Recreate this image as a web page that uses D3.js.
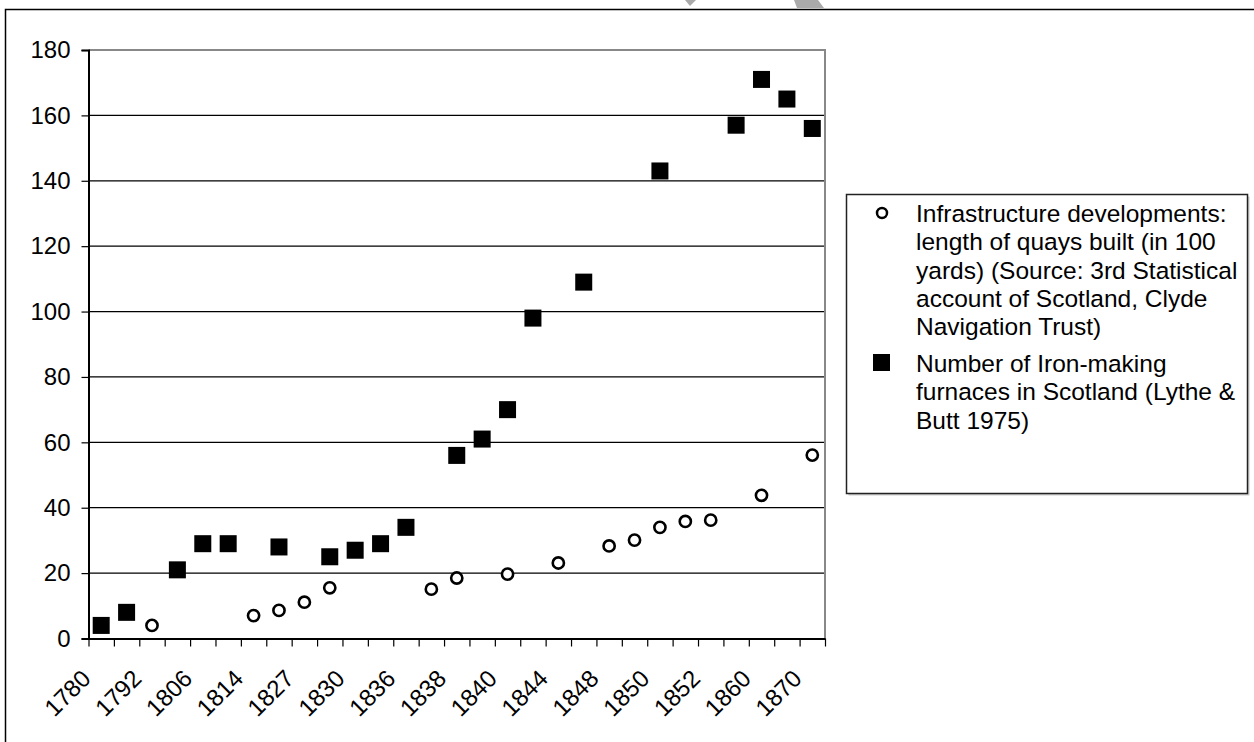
<!DOCTYPE html>
<html>
<head>
<meta charset="utf-8">
<script src="https://cdn.jsdelivr.net/npm/d3@7"></script>
<style>
  body { margin: 0; background: #fff; }
  svg text { font-family: "Liberation Sans", Arial, sans-serif; fill: #000; }
</style>
</head>
<body>
<svg width="1254" height="742"></svg>
<script>
// 29 categories, Excel only labels every second one
var yearLabels = ["1780","","1792","","1806","","1814","","1827","","1830","","1836","","1838","","1840","","1844","","1848","","1850","","1852","","1860","","1870"];

// Number of Iron-making furnaces (squares)
var furnaces = [4, 8, null, 21, 29, 29, null, 28, null, 25, 27, 29, 34, null, 56, 61, 70, 98, null, 109, null, null, 143, null, null, 157, 171, 165, 156];

// length of quays built, in 100 yards (circles)
var quays = [null, null, 4, null, null, null, 7, 8.6, 11.1, 15.5, null, null, null, 15.1, 18.5, null, 19.7, null, 23.1, null, 28.3, 30.1, 34, 35.8, 36.2, null, 43.8, null, 56.1];

var yTicks = [0, 20, 40, 60, 80, 100, 120, 140, 160, 180];

var legendQuays = ["Infrastructure developments:", "length of quays built (in 100", "yards) (Source: 3rd Statistical", "account of Scotland, Clyde", "Navigation Trust)"];
var legendFurnaces = ["Number of Iron-making", "furnaces in Scotland (Lythe &", "Butt 1975)"];

var svg = d3.select('svg');
var plotLeft = 88.5, plotRight = 825, plotTop = 50, plotBottom = 638.5;
var fontSize = 24;

// outer chart border
svg.append('rect')
  .attr('x', 5.5).attr('y', 9.5)
  .attr('width', 1400).attr('height', 900)
  .attr('fill', '#fff').attr('stroke', '#000').attr('stroke-width', 1.5);

// bits of the watermark peeking over the top edge
svg.append('path').attr('d', 'M685,0 L696,0 L690,6 Z').attr('fill', '#aaa');
svg.append('path').attr('d', 'M794,0 L818,0 L824,8 L797,8 Z').attr('fill', '#aaa');

var x = d3.scaleBand().domain(d3.range(yearLabels.length)).range([plotLeft, plotRight]).padding(0);
var xEdges = d3.scaleLinear().domain([0, yearLabels.length]).range([plotLeft, plotRight]);
var y = d3.scaleLinear().domain([0, 180]).range([plotBottom, plotTop]);

// gridlines
svg.append('g')
  .selectAll('line')
  .data(yTicks.filter(function(d) { return d > 0 && d < 180; }))
  .enter().append('line')
  .attr('x1', plotLeft).attr('x2', plotRight)
  .attr('y1', function(d) { return y(d); })
  .attr('y2', function(d) { return y(d); })
  .attr('stroke', '#000').attr('stroke-width', 1.2);

// plot area frame (top and right are gray)
svg.append('path')
  .attr('d', 'M' + plotLeft + ',' + plotTop + ' L' + plotRight + ',' + plotTop + ' L' + plotRight + ',' + plotBottom)
  .attr('fill', 'none').attr('stroke', '#888').attr('stroke-width', 2);

// y axis
var yAxis = svg.append('g')
  .attr('transform', 'translate(' + plotLeft + ',0)')
  .call(d3.axisLeft(y).tickValues(yTicks).tickSize(7).tickPadding(11));
yAxis.select('.domain').attr('stroke', '#000').attr('stroke-width', 2);
yAxis.selectAll('.tick line').attr('stroke', '#000').attr('stroke-width', 1.2);
yAxis.selectAll('text').attr('font-size', fontSize).attr('font-family', null);

// x axis, ticks on category boundaries
var xAxis = svg.append('g')
  .attr('transform', 'translate(0,' + plotBottom + ')')
  .call(d3.axisBottom(xEdges).tickValues(d3.range(yearLabels.length + 1)).tickFormat('').tickSize(8).tickSizeOuter(0));
xAxis.select('.domain').attr('stroke', '#000').attr('stroke-width', 2);
xAxis.selectAll('.tick line').attr('stroke', '#000').attr('stroke-width', 1.2);

svg.append('g')
  .selectAll('text')
  .data(yearLabels)
  .enter().append('text')
  .attr('text-anchor', 'end')
  .attr('font-size', fontSize)
  .attr('transform', function(d, i) {
    return 'translate(' + (x(i) + x.bandwidth() / 2 - 9) + ',680) rotate(-45)';
  })
  .text(function(d) { return d; });

// series
var sq = 17;
svg.append('g')
  .selectAll('rect')
  .data(furnaces.map(function(v, i) { return {i: i, v: v}; }).filter(function(d) { return d.v != null; }))
  .enter().append('rect')
  .attr('x', function(d) { return x(d.i) + x.bandwidth() / 2 - sq / 2; })
  .attr('y', function(d) { return y(d.v) - sq / 2; })
  .attr('width', sq).attr('height', sq)
  .attr('fill', '#000');

svg.append('g')
  .selectAll('circle')
  .data(quays.map(function(v, i) { return {i: i, v: v}; }).filter(function(d) { return d.v != null; }))
  .enter().append('circle')
  .attr('cx', function(d) { return x(d.i) + x.bandwidth() / 2; })
  .attr('cy', function(d) { return y(d.v); })
  .attr('r', 5.6)
  .attr('fill', '#fff').attr('stroke', '#000').attr('stroke-width', 2.6);

// legend
var legend = svg.append('g');
legend.append('rect')
  .attr('x', 848.5).attr('y', 196.5).attr('width', 401).attr('height', 299)
  .attr('fill', '#ccc');
legend.append('rect')
  .attr('x', 846.5).attr('y', 194.5).attr('width', 401).attr('height', 299)
  .attr('fill', '#fff').attr('stroke', '#222').attr('stroke-width', 1.5);

legend.append('circle')
  .attr('cx', 882).attr('cy', 213).attr('r', 5)
  .attr('fill', '#fff').attr('stroke', '#000').attr('stroke-width', 2.5);
legend.append('rect')
  .attr('x', 873).attr('y', 354).attr('width', 17).attr('height', 17)
  .attr('fill', '#000');

legend.selectAll('text.q')
  .data(legendQuays)
  .enter().append('text')
  .attr('class', 'q')
  .attr('x', 916).attr('y', function(d, i) { return 222 + i * 28.3; })
  .attr('font-size', 24.5)
  .text(function(d) { return d; });

legend.selectAll('text.f')
  .data(legendFurnaces)
  .enter().append('text')
  .attr('class', 'f')
  .attr('x', 916).attr('y', function(d, i) { return 372 + i * 28.3; })
  .attr('font-size', 24.5)
  .text(function(d) { return d; });
</script>
</body>
</html>
